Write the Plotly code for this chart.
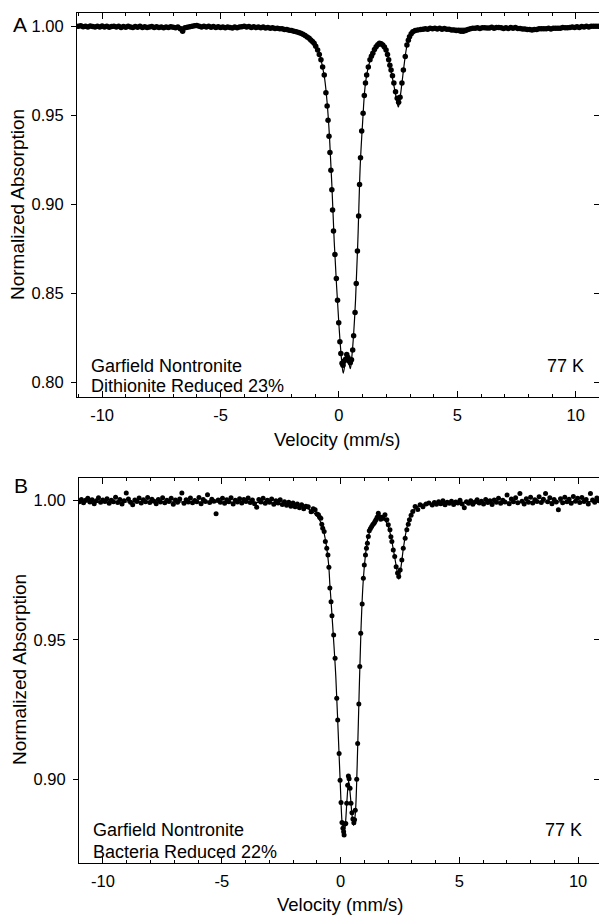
import plotly.graph_objects as go

# ---------------- Panel A data (Dithionite reduced) ----------------
A_left_vel = [
    -11.0, -10.9, -10.8, -10.7, -10.6, -10.5, -10.4, -10.3, -10.2, -10.1,
    -10.0, -9.9, -9.8, -9.7, -9.6, -9.5, -9.4, -9.3, -9.2, -9.1,
    -9.0, -8.9, -8.8, -8.7, -8.6, -8.5, -8.4, -8.3, -8.2, -8.1,
    -8.0, -7.9, -7.8, -7.7, -7.6, -7.5, -7.4, -7.3, -7.2, -7.1,
    -7.0, -6.9, -6.8, -6.7, -6.6, -6.5, -6.4, -6.3, -6.2, -6.1,
    -6.0, -5.9, -5.8, -5.7, -5.6, -5.5, -5.4, -5.3, -5.2, -5.1,
    -5.0, -4.9, -4.8, -4.7, -4.6, -4.5, -4.4, -4.3, -4.2, -4.1,
    -4.0, -3.9, -3.8, -3.7, -3.6, -3.5, -3.4, -3.3, -3.2, -3.1,
    -3.0, -2.9, -2.8, -2.7, -2.6, -2.5, -2.4, -2.3, -2.2, -2.1,
    -2.0, -1.9, -1.8, -1.7,
]
A_left_abs = [
    0.9998, 1.0002, 0.9996, 0.9999, 0.9995, 1.0000, 0.9997, 0.9994, 0.9999, 0.9995,
    1.0000, 0.9994, 0.9998, 0.9993, 0.9997, 0.9999, 0.9994, 0.9998, 0.9992, 0.9997,
    0.9993, 0.9998, 0.9995, 0.9991, 0.9997, 0.9993, 0.9998, 0.9992, 0.9996, 0.9991,
    0.9994, 0.9997, 0.9992, 0.9996, 0.9991, 0.9995, 0.9990, 0.9995, 0.9991, 0.9996,
    0.9993, 0.9990, 0.9994, 0.9985, 0.9970, 0.9990, 0.9993, 0.9996, 0.9998, 1.0001,
    1.0003, 0.9998, 0.9995, 0.9999, 0.9994, 0.9998, 0.9993, 0.9997, 0.9992, 0.9996,
    0.9991, 0.9995, 0.9990, 0.9995, 0.9991, 0.9989, 0.9994, 0.9990, 0.9994, 0.9996,
    0.9998, 0.9994, 0.9997, 0.9992, 0.9996, 0.9991, 0.9995, 0.9990, 0.9994, 0.9989,
    0.9991, 0.9988, 0.9990, 0.9986, 0.9988, 0.9984, 0.9984, 0.9980, 0.9980, 0.9976,
    0.9975, 0.9970, 0.9968, 0.9964,
]
A_dip_vel = [
    -1.61, -1.52, -1.43, -1.34, -1.26, -1.19, -1.12, -1.05, -0.98, -0.90,
    -0.83, -0.76, -0.69, -0.62, -0.55, -0.50, -0.46, -0.42, -0.38, -0.34,
    -0.30, -0.27, -0.23, -0.17, -0.11, -0.06, -0.01, 0.04, 0.08, 0.13,
    0.17, 0.22, 0.28, 0.33, 0.38, 0.43, 0.48, 0.53, 0.58, 0.62,
    0.68, 0.73, 0.78, 0.83, 0.87, 0.91, 0.96, 1.02, 1.07, 1.12,
    1.17, 1.24, 1.31, 1.37, 1.43, 1.50, 1.57, 1.64, 1.71, 1.78,
    1.85, 1.92, 1.99, 2.05, 2.10, 2.15, 2.20, 2.26, 2.32, 2.39,
    2.46, 2.52, 2.58, 2.66, 2.72, 2.80, 2.87, 2.93, 2.98, 3.05,
    3.12, 3.22, 3.33, 3.45,
]
A_dip_abs = [
    0.9959, 0.9953, 0.9946, 0.9938, 0.9931, 0.9922, 0.9913, 0.9903, 0.9886, 0.9865,
    0.9840, 0.9810, 0.9770, 0.9725, 0.9625, 0.9550, 0.9470, 0.9380, 0.9290, 0.9190,
    0.9080, 0.8966, 0.8848, 0.8717, 0.8582, 0.8460, 0.8333, 0.8226, 0.8160, 0.8105,
    0.8095, 0.8118, 0.8128, 0.8155, 0.8138, 0.8118, 0.8108, 0.8125, 0.8180, 0.8260,
    0.8390, 0.8554, 0.8736, 0.8933, 0.9110, 0.9260, 0.9410, 0.9510, 0.9610, 0.9680,
    0.9725, 0.9770, 0.9810, 0.9830, 0.9847, 0.9868, 0.9884, 0.9895, 0.9903, 0.9900,
    0.9893, 0.9882, 0.9865, 0.9840, 0.9810, 0.9780, 0.9753, 0.9720, 0.9680, 0.9631,
    0.9594, 0.9572, 0.9600, 0.9680, 0.9753, 0.9828, 0.9893, 0.9920, 0.9940, 0.9956,
    0.9968, 0.9975, 0.9978, 0.9981,
]
A_right_vel = [
    3.55, 3.65, 3.75, 3.85, 3.95, 4.05, 4.15, 4.25, 4.35, 4.45,
    4.55, 4.65, 4.75, 4.85, 4.95, 5.05, 5.15, 5.25, 5.35, 5.45,
    5.55, 5.65, 5.75, 5.85, 5.95, 6.05, 6.15, 6.25, 6.35, 6.45,
    6.55, 6.65, 6.75, 6.85, 6.95, 7.05, 7.15, 7.25, 7.35, 7.45,
    7.55, 7.65, 7.75, 7.85, 7.95, 8.05, 8.15, 8.25, 8.35, 8.45,
    8.55, 8.65, 8.75, 8.85, 8.95, 9.05, 9.15, 9.25, 9.35, 9.45,
    9.55, 9.65, 9.75, 9.85, 9.95, 10.05, 10.15, 10.25, 10.35, 10.45,
    10.55, 10.65, 10.75, 10.85, 10.95,
]
A_right_abs = [
    0.9982, 0.9985, 0.9982, 0.9987, 0.9984, 0.9988, 0.9983, 0.9987, 0.9982, 0.9986,
    0.9982, 0.9982, 0.9978, 0.9978, 0.9975, 0.9975, 0.9971, 0.9970, 0.9975, 0.9980,
    0.9984, 0.9987, 0.9987, 0.9990, 0.9986, 0.9990, 0.9990, 0.9989, 0.9989, 0.9993,
    0.9988, 0.9992, 0.9992, 0.9990, 0.9986, 0.9990, 0.9986, 0.9991, 0.9987, 0.9991,
    0.9986, 0.9986, 0.9983, 0.9983, 0.9980, 0.9981, 0.9977, 0.9980, 0.9981, 0.9985,
    0.9985, 0.9984, 0.9984, 0.9988, 0.9983, 0.9987, 0.9987, 0.9987, 0.9988, 0.9991,
    0.9990, 0.9990, 0.9991, 0.9995, 0.9991, 0.9996, 0.9992, 0.9997, 0.9994, 0.9998,
    0.9994, 0.9999, 0.9999, 0.9998, 0.9998,
]
A_fit_vel = [-11.0, -4.0, -3.0, -2.5, -2.0, -1.6, -1.3, -1.1, -0.9, -0.8,
             -0.7, -0.6, -0.5, -0.4, -0.3, -0.2, -0.1, 0.0, 0.1, 0.18,
             0.26, 0.34, 0.41, 0.48, 0.55, 0.62, 0.7, 0.8, 0.9, 1.0,
             1.1, 1.2, 1.3, 1.45, 1.6, 1.75, 1.9, 2.05, 2.2, 2.35,
             2.45, 2.51, 2.58, 2.66, 2.75, 2.85, 2.95, 3.1, 3.4, 4.0,
             6.0, 8.0, 10.0, 11.0]
A_fit_abs = [0.9995, 0.9993, 0.9988, 0.9984, 0.9976, 0.9962, 0.9942, 0.9918, 0.9868, 0.9832,
             0.9775, 0.9700, 0.9570, 0.9380, 0.9110, 0.8790, 0.8540, 0.8320, 0.8140, 0.8050,
             0.8110, 0.8165, 0.8115, 0.8075, 0.8150, 0.8270, 0.8460, 0.8800, 0.9220, 0.9460,
             0.9655, 0.9745, 0.9800, 0.9852, 0.9885, 0.9900, 0.9885, 0.9835, 0.9745, 0.9645,
             0.9575, 0.9545, 0.9595, 0.9680, 0.9780, 0.9875, 0.9935, 0.9968, 0.9980, 0.9985,
             0.9988, 0.9986, 0.9992, 0.9997]

# ---------------- Panel B data (Bacteria reduced) ----------------
B_left_vel = [
    -11.00, -10.91, -10.82, -10.73, -10.64, -10.55, -10.46, -10.37, -10.28, -10.19,
    -10.10, -10.01, -9.92, -9.83, -9.74, -9.65, -9.56, -9.47, -9.38, -9.29,
    -9.20, -9.11, -9.02, -8.93, -8.84, -8.75, -8.66, -8.57, -8.48, -8.39,
    -8.30, -8.21, -8.12, -8.03, -7.94, -7.85, -7.76, -7.67, -7.58, -7.49,
    -7.40, -7.31, -7.22, -7.13, -7.04, -6.95, -6.86, -6.77, -6.68, -6.59,
    -6.50, -6.41, -6.32, -6.23, -6.14, -6.05, -5.96, -5.87, -5.78, -5.69,
    -5.60, -5.51, -5.42, -5.33, -5.24, -5.15, -5.06, -4.97, -4.88, -4.79,
    -4.70, -4.61, -4.52, -4.43, -4.34, -4.25, -4.16, -4.07, -3.98, -3.89,
    -3.80, -3.71, -3.62, -3.53, -3.44, -3.35, -3.26, -3.17, -3.08, -2.99,
    -2.90, -2.81, -2.72, -2.63, -2.54, -2.45, -2.36, -2.27, -2.18, -2.09,
    -2.00, -1.91, -1.82, -1.73, -1.64, -1.55, -1.46,
]
B_left_abs = [
    0.9996, 1.0004, 0.9992, 1.0001, 1.0008, 0.9995, 1.0003, 0.9989, 0.9999, 1.0010,
    0.9994, 1.0002, 0.9997, 1.0007, 0.9990, 1.0001, 0.9996, 1.0012, 0.9993, 1.0004,
    0.9988, 0.9999, 1.0027, 1.0006, 0.9994, 0.9985, 1.0002, 0.9997, 1.0009, 0.9991,
    1.0003, 0.9996, 1.0011, 0.9993, 1.0005, 0.9998, 0.9989, 1.0004, 0.9995, 1.0010,
    0.9992, 1.0001, 0.9997, 1.0008, 0.9987, 1.0002, 0.9994, 1.0006, 1.0027, 0.9990,
    1.0003, 0.9995, 1.0009, 0.9992, 1.0000, 0.9996, 1.0011, 0.9989, 1.0004, 0.9997,
    1.0021, 0.9993, 1.0005, 0.9998, 0.9953, 1.0002, 0.9994, 1.0008, 0.9990, 1.0003,
    0.9996, 1.0010, 0.9988, 1.0001, 0.9995, 1.0007, 0.9991, 1.0004, 0.9997, 1.0009,
    0.9993, 1.0002, 0.9989, 0.9976, 1.0004, 0.9995, 1.0008, 0.9990, 1.0001, 0.9994,
    1.0006, 0.9987, 0.9999, 0.9991, 1.0003, 0.9986, 0.9996, 0.9983, 0.9994, 0.9980,
    0.9991, 0.9978, 0.9988, 0.9974, 0.9985, 0.9971, 0.9980,
]
B_dip_vel = [
    -1.36, -1.24, -1.15, -1.07, -0.99, -0.93, -0.88, -0.83, -0.79, -0.75,
    -0.69, -0.64, -0.58, -0.53, -0.49, -0.45, -0.40, -0.36, -0.29, -0.23,
    -0.16, -0.12, -0.06, -0.02, 0.02, 0.06, 0.10, 0.13, 0.15, 0.18,
    0.22, 0.26, 0.30, 0.33, 0.36, 0.40, 0.44, 0.48, 0.52, 0.56,
    0.59, 0.62, 0.68, 0.72, 0.77, 0.81, 0.85, 0.91, 0.96, 1.00,
    1.05, 1.09, 1.13, 1.17, 1.21, 1.26, 1.31, 1.36, 1.41, 1.45,
    1.49, 1.54, 1.59, 1.64, 1.69, 1.75, 1.80, 1.87, 1.95, 2.01,
    2.08, 2.12, 2.16, 2.22, 2.28, 2.34, 2.40, 2.45, 2.51, 2.58,
    2.64, 2.72, 2.79, 2.85, 2.90, 2.97, 3.04, 3.14, 3.25, 3.35,
    3.47, 3.60, 3.72,
]
B_dip_abs = [
    0.9978, 0.9960, 0.9971, 0.9967, 0.9952, 0.9949, 0.9940, 0.9937, 0.9915, 0.9901,
    0.9889, 0.9853, 0.9829, 0.9805, 0.9761, 0.9686, 0.9637, 0.9587, 0.9518, 0.9434,
    0.9291, 0.9213, 0.9093, 0.8997, 0.8917, 0.8845, 0.8825, 0.8812, 0.8800, 0.8840,
    0.8842, 0.8914, 0.8979, 0.9012, 0.9002, 0.8968, 0.8914, 0.8880, 0.8858, 0.8844,
    0.8855, 0.8889, 0.9000, 0.9129, 0.9270, 0.9405, 0.9524, 0.9629, 0.9721, 0.9769,
    0.9805, 0.9829, 0.9847, 0.9871, 0.9892, 0.9900, 0.9907, 0.9914, 0.9919, 0.9925,
    0.9931, 0.9940, 0.9955, 0.9942, 0.9933, 0.9940, 0.9937, 0.9949, 0.9931, 0.9913,
    0.9895, 0.9870, 0.9853, 0.9823, 0.9799, 0.9763, 0.9740, 0.9728, 0.9751, 0.9787,
    0.9829, 0.9865, 0.9895, 0.9915, 0.9931, 0.9947, 0.9961, 0.9979, 0.9968, 0.9985,
    0.9978, 0.9988, 0.9991,
]
B_right_vel = [
    3.86, 3.95, 4.04, 4.13, 4.22, 4.31, 4.40, 4.49, 4.58, 4.67,
    4.76, 4.85, 4.94, 5.03, 5.12, 5.21, 5.30, 5.39, 5.48, 5.57,
    5.66, 5.75, 5.84, 5.93, 6.02, 6.11, 6.20, 6.29, 6.38, 6.47,
    6.56, 6.65, 6.74, 6.83, 6.92, 7.01, 7.10, 7.19, 7.28, 7.37,
    7.46, 7.55, 7.64, 7.73, 7.82, 7.91, 8.00, 8.09, 8.18, 8.27,
    8.36, 8.45, 8.54, 8.63, 8.72, 8.81, 8.90, 8.99, 9.08, 9.17,
    9.26, 9.35, 9.44, 9.53, 9.62, 9.71, 9.80, 9.89, 9.98, 10.07,
    10.16, 10.25, 10.34, 10.43, 10.52, 10.61, 10.70, 10.79, 10.88,
]
B_right_abs = [
    0.9984, 0.9993, 0.9987, 0.9996, 0.9989, 0.9999, 0.9985, 0.9994, 0.9990, 0.9998,
    0.9986, 0.9995, 0.9991, 1.0001, 0.9988, 0.9974, 0.9996, 0.9990, 0.9999, 0.9987,
    0.9995, 1.0003, 0.9991, 0.9998, 0.9988, 1.0004, 0.9993, 0.9999, 0.9986, 1.0002,
    0.9994, 1.0008, 0.9990, 1.0001, 0.9995, 1.0020, 0.9989, 1.0006, 0.9996, 1.0010,
    0.9992, 1.0025, 0.9998, 0.9988, 1.0007, 0.9994, 1.0012, 0.9991, 1.0003, 0.9997,
    1.0014, 0.9993, 1.0005, 1.0025, 0.9996, 1.0010, 0.9989, 1.0004, 0.9995, 0.9967,
    1.0007, 0.9992, 1.0012, 0.9996, 1.0005, 0.9990, 1.0015, 0.9998, 1.0008, 0.9993,
    1.0011, 0.9997, 1.0004, 0.9988, 1.0025, 1.0002, 0.9994, 1.0009, 0.9999,
]
B_fit_vel = [-11.0, -3.0, -2.0, -1.5, -1.2, -1.0, -0.85, -0.7, -0.6, -0.5,
             -0.45, -0.4, -0.3, -0.2, -0.1, 0.0, 0.06, 0.13, 0.2, 0.27,
             0.34, 0.41, 0.48, 0.55, 0.62, 0.7, 0.78, 0.86, 0.95, 1.05,
             1.15, 1.3, 1.5, 1.7, 1.9, 2.05, 2.2, 2.35, 2.45, 2.55,
             2.65, 2.8, 3.0, 3.3, 4.0, 6.0, 11.0]
B_fit_abs = [0.9995, 0.9992, 0.9985, 0.9975, 0.9962, 0.9945, 0.9925, 0.9885, 0.9840, 0.9770,
             0.9700, 0.9640, 0.9510, 0.9370, 0.9170, 0.8960, 0.8850, 0.8795, 0.8835, 0.8925,
             0.8995, 0.8945, 0.8875, 0.8835, 0.8875, 0.9050, 0.9300, 0.9535, 0.9705, 0.9805,
             0.9865, 0.9905, 0.9932, 0.9938, 0.9925, 0.9895, 0.9835, 0.9762, 0.9718, 0.9765,
             0.9832, 0.9905, 0.9955, 0.9982, 0.9991, 0.9994, 0.9996]

A_yticks = [0.80, 0.85, 0.90, 0.95, 1.00]
B_yticks = [0.90, 0.95, 1.00]
x_ticks = [-10, -5, 0, 5, 10]
x_ticktext = ["-10", "-5", "0", "5", "10"]

A_vel = A_left_vel + A_dip_vel + A_right_vel
A_abs = A_left_abs + A_dip_abs + A_right_abs
B_vel = B_left_vel + B_dip_vel + B_right_vel
B_abs = B_left_abs + B_dip_abs + B_right_abs

FONT = "Liberation Sans, Arial, sans-serif"
W, H = 599, 918
ML, MR, MT, MB = 77, 0, 13, 55
PW, PH = W - ML - MR, H - MT - MB


def px(x):
    return (x - ML) / PW


def py(y):
    return (H - MB - y) / PH


fig = go.Figure()
line = dict(color="black", width=1.2)

fig.add_trace(go.Scatter(x=A_fit_vel, y=A_fit_abs, mode="lines", line=line,
                         line_shape="spline", xaxis="x", yaxis="y", showlegend=False))
fig.add_trace(go.Scatter(x=A_vel, y=A_abs, mode="markers", marker=dict(color="black", size=5.5),
                         xaxis="x", yaxis="y", showlegend=False))
fig.add_trace(go.Scatter(x=B_fit_vel, y=B_fit_abs, mode="lines", line=line,
                         line_shape="spline", xaxis="x2", yaxis="y2", showlegend=False))
fig.add_trace(go.Scatter(x=B_vel, y=B_abs, mode="markers", marker=dict(color="black", size=5),
                         xaxis="x2", yaxis="y2", showlegend=False))
# invisible traces so the right-side tick axes render
fig.add_trace(go.Scatter(x=[0], y=[0.9], mode="markers", marker=dict(opacity=0),
                         xaxis="x", yaxis="y3", showlegend=False, hoverinfo="skip"))
fig.add_trace(go.Scatter(x=[0], y=[0.95], mode="markers", marker=dict(opacity=0),
                         xaxis="x2", yaxis="y4", showlegend=False, hoverinfo="skip"))

tickfont = dict(family=FONT, size=16.5, color="black")
xcommon = dict(tickvals=x_ticks, ticktext=x_ticktext, ticks="inside", ticklen=6,
               tickcolor="black", showline=True, linecolor="black", linewidth=1,
               mirror="ticks", showgrid=False, zeroline=False, tickfont=tickfont,
               ticklabelstandoff=3,
               minor=dict(dtick=1, ticks="inside", ticklen=3, tickcolor="black", showgrid=False))
ycommon = dict(ticks="outside", ticklen=5, tickcolor="black", showline=True,
               linecolor="black", linewidth=1, showgrid=False, zeroline=False,
               tickfont=tickfont, ticklabelstandoff=4)

A_ytext = ["%.2f" % v for v in A_yticks]
B_ytext = ["%.2f" % v for v in B_yticks]
A_yrange = [0.7916, 1.0073]
B_yrange = [0.8700, 1.0081]

fig.update_layout(
    width=W, height=H,
    margin=dict(l=ML, r=MR, t=MT, b=MB, pad=0),
    paper_bgcolor="white", plot_bgcolor="white",
    font=dict(family=FONT, color="black"),
    xaxis=dict(domain=[0, 1], anchor="y", range=[-11.06, 10.98], **xcommon),
    yaxis=dict(domain=[py(397), 1], anchor="x", range=A_yrange,
               tickvals=A_yticks, ticktext=A_ytext, **ycommon),
    yaxis3=dict(overlaying="y", side="right", anchor="x", range=A_yrange,
                tickvals=A_yticks, ticks="inside", ticklen=5, tickcolor="black",
                showticklabels=False, showline=False, showgrid=False, zeroline=False),
    xaxis2=dict(domain=[px(79), 1], anchor="y2", range=[-11.01, 10.88], **xcommon),
    yaxis2=dict(domain=[0, py(478)], anchor="x2", range=B_yrange,
                tickvals=B_yticks, ticktext=B_ytext, **ycommon),
    yaxis4=dict(overlaying="y2", side="right", anchor="x2", range=B_yrange,
                tickvals=B_yticks, ticks="inside", ticklen=5, tickcolor="black",
                showticklabels=False, showline=False, showgrid=False, zeroline=False),
)


def ann(text, x, y, xanchor="left", size=18, angle=0):
    fig.add_annotation(text=text, x=px(x), y=py(y), xref="paper", yref="paper",
                       xanchor=xanchor, yanchor="middle", showarrow=False, textangle=angle,
                       font=dict(family=FONT, size=size, color="black"))


ann("A", 20, 24, "center", 21)
ann("B", 21, 486, "center", 21)
ann("Garfield Nontronite", 89, 366)
ann("Dithionite Reduced 23%", 89, 386)
ann("77 K", 586, 366, "right")
ann("Garfield Nontronite", 91, 830)
ann("Bacteria Reduced 22%", 91, 852)
ann("77 K", 584, 830, "right")
ann("Velocity (mm/s)", 337, 439, "center", 18.5)
ann("Velocity (mm/s)", 340, 905, "center", 18.5)
ann("Normalized Absorption", 18, 205, "center", 19, -90)
ann("Normalized Absorption", 19, 670, "center", 19, -90)

fig.write_html("out.html")
